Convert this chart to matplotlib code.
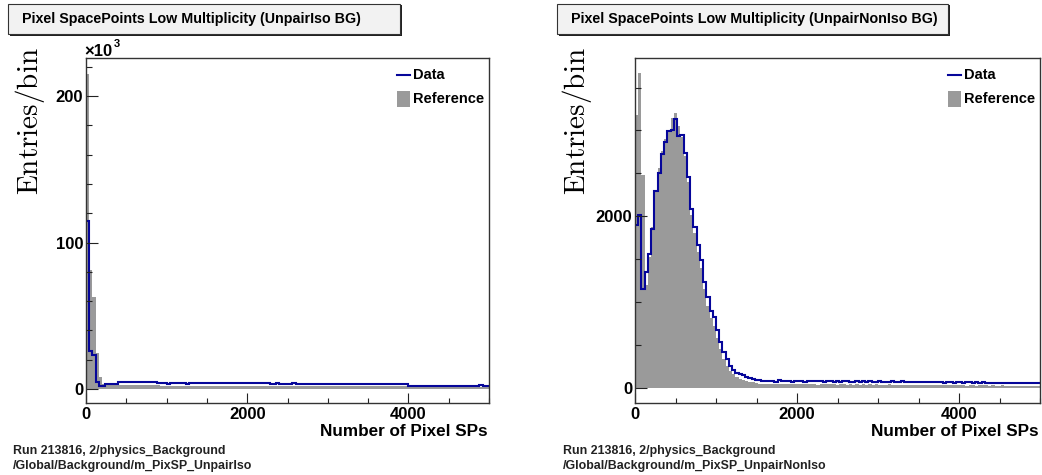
import numpy as np
import matplotlib
matplotlib.use("Agg")
import matplotlib.pyplot as plt
from matplotlib.patches import Rectangle
from matplotlib.lines import Line2D
from matplotlib.ticker import MultipleLocator, FixedLocator

plt.rcParams["font.family"] = ["Liberation Sans", "DejaVu Sans"]
plt.rcParams["mathtext.fontset"] = "cm"

# ---- histogram contents (bins of 40 SPs over 0..5000) ----
BIN_EDGES = np.arange(0, 5001, 40)

# Unpaired isolated bunches, entries in units of 10^3
iso_data = [
    115, 26, 23, 5.0, 2.0, 2.1, 3.2, 3.2, 3.3, 3.5, 4.5,
    4.5, 4.6, 4.5, 4.5, 4.6, 4.5, 4.5, 4.5, 4.6, 4.5, 4.5,
    3.9, 3.9, 3.9, 3.8, 3.9, 3.9, 3.9, 3.9, 3.9, 3.8, 3.9, 3.9, 3.9, 3.9, 3.9, 3.9, 3.9, 3.9, 3.9, 4.0, 3.9, 3.9,
    4.3, 4.2, 4.4, 4.2, 4.1, 4.3, 4.2, 4.2, 4.4, 4.1, 4.2, 4.3, 4.1,
    3.8, 3.8, 3.9, 3.8, 3.8, 3.8, 3.8, 3.9, 3.8, 3.8, 3.8, 3.8, 3.8, 3.8, 3.8, 3.8, 3.8, 3.8, 3.8, 3.8, 3.8,
    3.5, 3.4, 3.6, 3.5, 3.3, 3.5, 3.5, 3.5, 3.5, 3.5, 3.5, 3.4, 3.5, 3.5, 3.5, 3.5, 3.5, 3.5, 3.5, 3.5, 3.5, 3.5,
    2.2, 2.2, 2.2, 2.2, 2.2, 2.2, 2.2, 2.2, 2.2, 2.2, 2.2, 2.2, 2.2, 2.2, 2.2, 2.2, 2.2, 2.2, 2.2, 2.2, 2.2, 2.2, 2.5, 2.2, 2.2,
]
iso_ref = [
    215, 81, 63, 24.5, 8.4, 3.5,
    2.7, 2.7, 2.8, 2.7, 2.7, 2.7, 2.8, 2.7, 2.7, 2.7, 2.7, 2.8, 2.7, 2.7, 2.7, 2.7, 2.7,
    2.1, 2.0, 2.0, 2.1, 2.0, 2.0, 2.0, 2.1, 2.0, 2.0, 2.0, 2.0, 2.1, 2.0, 2.0, 2.0, 2.0, 2.0, 2.1, 2.0,
    2.0, 2.0, 2.0, 2.1, 2.0, 2.0, 2.0, 2.0, 1.9, 2.0, 2.0, 2.0, 2.0, 2.0, 1.9, 2.0, 2.0, 2.0, 1.9, 2.0,
    2.0, 1.9, 2.0, 2.0, 1.9, 2.0, 1.9, 2.0, 1.9, 1.9, 2.0, 1.9, 1.9, 2.0, 1.9, 1.9,
    1.9, 1.9, 2.0, 1.9, 1.9, 1.9, 1.9, 1.9, 1.9, 1.8, 1.9, 1.9, 1.9, 1.9, 1.8, 1.9, 1.9, 1.8, 1.8, 1.9,
    1.8, 1.8, 1.8, 1.8, 1.7, 1.8, 1.8, 1.8, 1.7, 1.8, 1.7, 1.7, 1.7, 1.7, 1.7, 1.6, 1.7, 1.7, 1.6, 1.7,
    1.6, 1.6, 1.6, 1.6, 1.6, 1.6,
]

# Unpaired non-isolated bunches, entries per bin
noniso_data = [
    1900, 2010, 1150, 1350, 1560, 1850, 2290, 2500, 2720, 2870, 2990, 3000, 3130, 2930, 2950, 2740,
    2460, 2080, 1880, 1660, 1490, 1230, 1060, 900, 830, 680, 540, 420, 340, 260, 215, 180, 160, 150,
    130, 120, 110, 95, 88,
    82, 76, 85, 79, 74, 88, 80, 77, 83, 75, 79, 86, 78, 72, 81, 77, 84, 76, 80, 73, 78, 82,
    74, 79, 71, 77, 83, 75, 70, 78, 74, 80, 72, 76, 69, 75, 79, 71, 74, 68, 77, 73, 70, 76, 72, 67, 74,
    70, 66, 73, 69, 64, 71, 68, 65, 72, 63, 67, 70, 62, 66, 69, 61, 65, 68, 60, 64, 58, 66, 62, 59, 63,
    57, 61, 55, 60, 58, 54, 62, 56, 59, 53, 57, 60, 55, 58,
]
noniso_ref = [
    3180, 3670, 2480, 1200, 1520, 1880, 2300, 2560, 2760, 2900, 3010, 3150, 3200, 3050, 2920, 2700,
    2400, 2020, 1800, 1580, 1400, 1150, 960, 820, 720, 580, 450, 340, 260, 200, 160, 130, 110, 95,
    85, 75, 65, 58, 52,
    50, 46, 52, 44, 48, 45, 51, 43, 47, 49, 42, 46, 50, 44, 41, 47, 45, 40, 48, 43, 46, 42,
    44, 39, 45, 41, 38, 43, 40, 46, 37, 42, 39, 44, 36, 41, 38, 40, 35, 42, 37, 39, 34, 40, 36, 38, 33,
    37, 34, 39, 32, 36, 33, 35, 31, 37, 30, 34, 32, 29, 35, 31, 33, 28, 32, 30, 27, 33, 29, 31, 26, 30,
    28, 25, 29, 27, 24, 28, 26, 23, 27, 25, 22, 26, 24, 23,
]

titles = ["Pixel SpacePoints Low Multiplicity (UnpairIso BG)",
          "Pixel SpacePoints Low Multiplicity (UnpairNonIso BG)"]
footers = [["Run 213816, 2/physics_Background", "/Global/Background/m_PixSP_UnpairIso"],
           ["Run 213816, 2/physics_Background", "/Global/Background/m_PixSP_UnpairNonIso"]]
x_label = "Number of Pixel SPs"
y_label = r"$\mathrm{Entries/bin}$"
x_ticks = [0, 2000, 4000]
x_ticklabels = ["0", "2000", "4000"]
iso_yticks = [0, 100, 200]
noniso_yticks = [0, 2000]
legend_labels = ["Data", "Reference"]

W, H = 1042, 475
BLUE = "#06069a"
GREY = "#9a9a9a"

fig = plt.figure(figsize=(W / 100, H / 100), dpi=100)


def fx(px):
    return px / W


def fy(py):
    return 1 - py / H


panels = [
    dict(left=86, right=489, data=iso_data, ref=iso_ref, ylim=(-9.5, 226),
         yticks=iso_yticks, yminor=20, title_box=(8, 400), ylab_x=30, foot_x=13),
    dict(left=635, right=1040, data=noniso_data, ref=noniso_ref, ylim=(-175, 3844),
         yticks=noniso_yticks, yminor=500, title_box=(557, 948), ylab_x=577, foot_x=563),
]
top, bottom = 58, 403

for i, p in enumerate(panels):
    ax = fig.add_axes([fx(p["left"]), fy(bottom), fx(p["right"] - p["left"]), (bottom - top) / H])
    ax.stairs(p["ref"], BIN_EDGES, fill=True, color=GREY, lw=0)
    ax.stairs(p["data"], BIN_EDGES, baseline=None, color=BLUE, lw=1.5)
    ax.set_xlim(0, 5000)
    ax.set_ylim(*p["ylim"])

    ax.xaxis.set_major_locator(FixedLocator(x_ticks))
    ax.set_xticklabels(x_ticklabels)
    ax.xaxis.set_minor_locator(MultipleLocator(500))
    ax.yaxis.set_major_locator(FixedLocator(p["yticks"]))
    ax.set_yticklabels([str(t) for t in p["yticks"]])
    ax.yaxis.set_minor_locator(MultipleLocator(p["yminor"]))

    ax.tick_params(axis="both", which="both", direction="in", color="#222222", width=0.8,
                   top=False, right=False, labelsize=12)
    ax.tick_params(axis="y", which="major", length=8.6, pad=2)
    ax.tick_params(axis="y", which="minor", length=4.5)
    ax.tick_params(axis="x", which="major", length=7.2, pad=3)
    ax.tick_params(axis="x", which="minor", length=3.6)
    for lbl in ax.get_xticklabels() + ax.get_yticklabels():
        lbl.set_fontweight("bold")
    for sp in ax.spines.values():
        sp.set_color("#333333")
        sp.set_linewidth(1.0)

    # x-axis title, right aligned under the frame
    fig.text(fx(p["right"] - 1), fy(432), x_label, ha="right", va="center",
             fontsize=12.3, fontweight="bold")
    # y-axis title, anchored at the top of the frame
    fig.text(fx(p["ylab_x"]), fy(47), y_label, ha="center", va="top",
             rotation=90, fontsize=21)

    # title box with drop shadow
    bx0, bx1 = p["title_box"]
    fig.patches.append(Rectangle((fx(bx0 + 2), fy(36)), fx(bx1 - bx0), 31 / H,
                                 transform=fig.transFigure, facecolor="#222222",
                                 edgecolor="none"))
    fig.patches.append(Rectangle((fx(bx0), fy(34)), fx(bx1 - bx0), 30 / H,
                                 transform=fig.transFigure, facecolor="#f2f2f2",
                                 edgecolor="#333333", lw=0.8))
    fig.text(fx(bx0 + 14), fy(19.5), titles[i], ha="left", va="center",
             fontsize=10.3, fontweight="bold")

    # legend
    lx = p["right"] - 92
    fig.lines.append(Line2D([fx(lx), fx(lx + 13)], [fy(75), fy(75)],
                            transform=fig.transFigure, color=BLUE, lw=1.5))
    fig.patches.append(Rectangle((fx(lx), fy(107)), fx(13), 16 / H,
                                 transform=fig.transFigure, facecolor=GREY,
                                 edgecolor="none"))
    fig.text(fx(lx + 16), fy(75), legend_labels[0], ha="left", va="center",
             fontsize=10.5, fontweight="bold")
    fig.text(fx(lx + 16), fy(99), legend_labels[1], ha="left", va="center",
             fontsize=10.5, fontweight="bold")

    # run information footer
    fig.text(fx(p["foot_x"]), fy(451), footers[i][0], ha="left", va="center",
             fontsize=8.9, fontweight="bold", color="#222222")
    fig.text(fx(p["foot_x"]), fy(466), footers[i][1], ha="left", va="center",
             fontsize=8.9, fontweight="bold", color="#222222")

# exponent marker for the left panel's y axis
fig.text(fx(84), fy(51), "\u00d710", ha="left", va="center", fontsize=12,
         fontweight="bold")
fig.text(fx(114), fy(44), "3", ha="left", va="center", fontsize=8,
         fontweight="bold")

fig.savefig("out.png", dpi=100)
